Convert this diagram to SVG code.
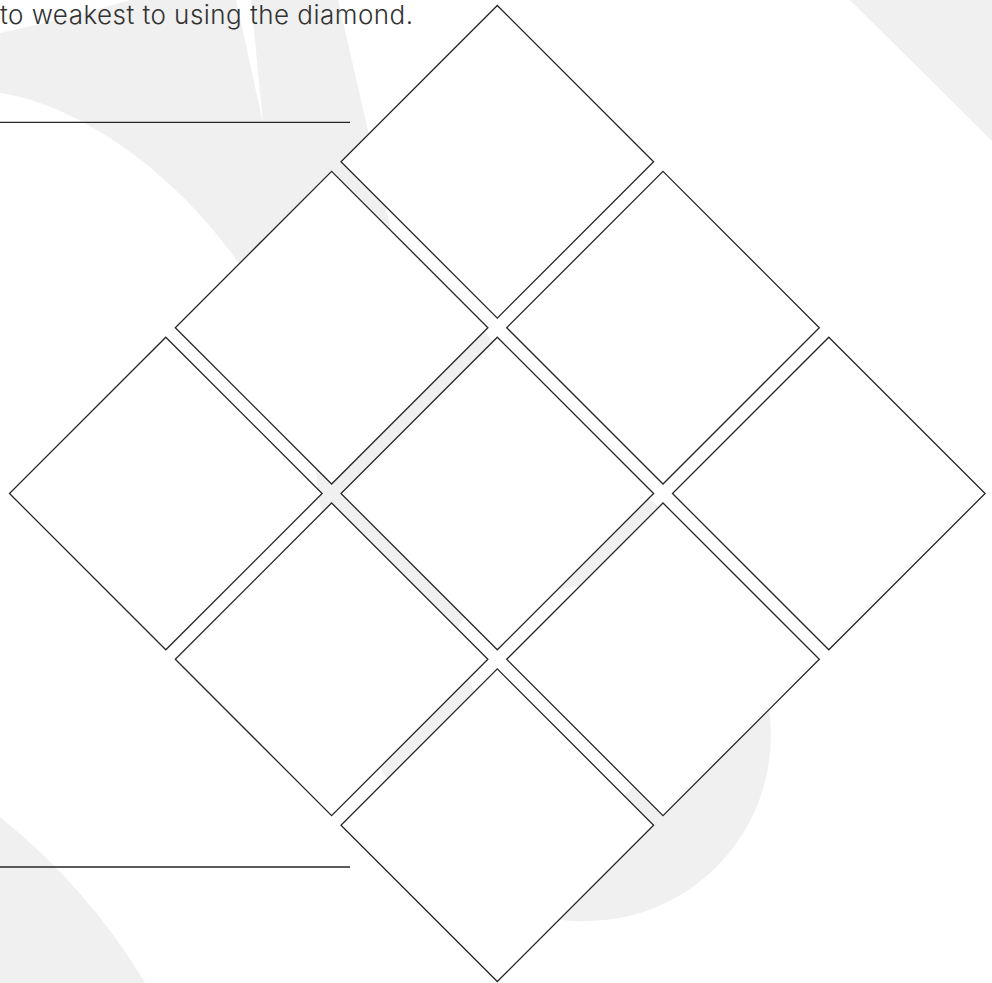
<svg xmlns="http://www.w3.org/2000/svg" xmlns:xlink="http://www.w3.org/1999/xlink" width="992" height="983" viewBox="0 0 992 983">
  <style>
    .bg { fill: #f0f0f0; stroke: none; }
    .tile { fill: #ffffff; stroke: #262626; stroke-width: 1.3; stroke-linejoin: miter; }
    .rule { stroke: #262626; stroke-width: 1.3; fill: none; }
    .caption { font-family: Inter, "Noto Sans", "Liberation Sans", sans-serif; font-weight: 300; font-size: 26px; fill: #333333; }
  </style>
  <defs>
    <polygon id="diamond" points="0,-156.3 156.3,0 0,156.3 -156.3,0"/>
  </defs>

  <rect x="0" y="0" width="992" height="983" fill="#ffffff"/>

  <g id="background">
    <path class="bg" d="M0,33 Q70,18 130,0 L236,0 L263,123 L251,0 L338,0 L392,235 L495,343 L648,498 L665,512 L585,585 L470,605 L452,640 L478,700 L400,800 L370,750 L330,560 L318,494 C310,270 120,110 0,93 Z"/>
    <path class="bg" d="M756.44,663.56 A186,186 0 0 1 513.06,906.94 Z"/>
    <path class="bg" d="M850,0 L992,0 L992,141 Z"/>
    <path class="bg" d="M0,817 Q90,890 145,983 L0,983 Z"/>
  </g>

  <text class="caption" x="0" y="24" textLength="413" lengthAdjust="spacing">to weakest to using the diamond.</text>

  <g id="rules">
    <line class="rule" x1="0" y1="122.3" x2="350" y2="122.3"/>
    <line class="rule" x1="0" y1="867" x2="350" y2="867"/>
  </g>

  <g id="connectors"></g>

  <g id="node-top"><use href="#diamond" class="tile" transform="translate(497.3,161.8)"/></g>
  <g id="node-r2-left"><use href="#diamond" class="tile" transform="translate(331.6,327.7)"/></g>
  <g id="node-r2-right"><use href="#diamond" class="tile" transform="translate(663,327.7)"/></g>
  <g id="node-r3-left"><use href="#diamond" class="tile" transform="translate(165.8,493.5)"/></g>
  <g id="node-center"><use href="#diamond" class="tile" transform="translate(497.3,493.5)"/></g>
  <g id="node-r3-right"><use href="#diamond" class="tile" transform="translate(828.8,493.5)"/></g>
  <g id="node-r4-left"><use href="#diamond" class="tile" transform="translate(331.6,659.3)"/></g>
  <g id="node-r4-right"><use href="#diamond" class="tile" transform="translate(663,659.3)"/></g>
  <g id="node-bottom"><use href="#diamond" class="tile" transform="translate(497.3,825.2)"/></g>
</svg>
